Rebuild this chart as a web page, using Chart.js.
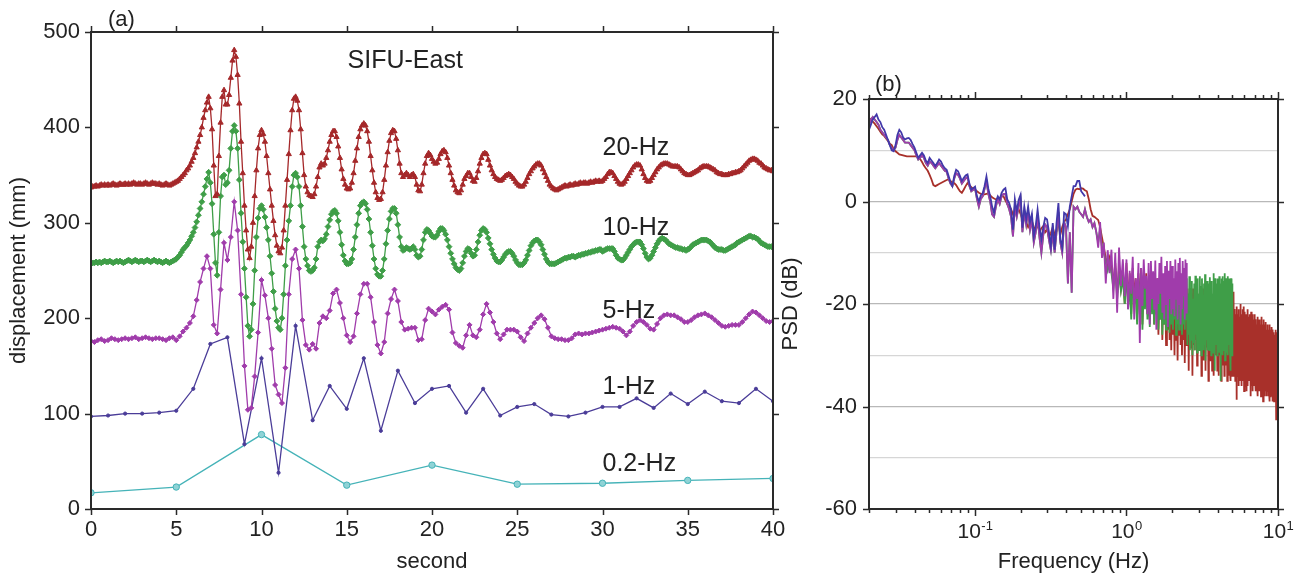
<!DOCTYPE html>
<html>
<head>
<meta charset="utf-8">
<title>SIFU-East displacement and PSD</title>
<script src="https://cdn.jsdelivr.net/npm/chart.js@4.4.1/dist/chart.umd.min.js"></script>
<style>
  html, body { margin: 0; padding: 0; background: #fff; }
  #wrap { position: relative; width: 1308px; height: 579px; overflow: hidden; }
  #dispChart { position: absolute; left: 0; top: 0; }
  #psdChart { position: absolute; left: 770px; top: 0; }
</style>
</head>
<body>
<div id="wrap">
  <canvas id="dispChart" width="800" height="579"></canvas>
  <canvas id="psdChart" width="538" height="579"></canvas>
</div>
<script>
// ---- displacement traces (mm), one array per sampling rate ----
const step20Hz = 0.1;   // every 0.1 s
const disp20Hz = [
  337,338,338,339,338,339,340,339,340,339, 340,339,340,341,340,339,340,341,340,340,
  341,340,341,340,341,342,341,340,341,341, 340,341,342,341,340,341,342,341,341,340,
  341,340,339,340,341,340,339,340,341,342, 343,344,346,348,350,352,355,357,360,364,
  368,373,379,385,392,400,410,418,426,432, 420,398,360,328,330,370,405,432,439,424,
  424,434,452,470,481,474,455,425,385,352, 318,292,272,263,275,300,328,355,378,392,
  397,393,385,370,352,335,318,302,287,276, 270,268,274,292,318,345,372,397,418,430,
  432,428,418,398,373,350,338,332,329,328, 327,330,338,348,358,362,360,362,368,376,
  385,392,396,396,390,380,368,356,346,340, 336,335,336,342,352,365,378,390,398,402,
  404,402,396,385,370,355,342,332,326,324, 325,332,345,360,374,386,394,397,396,388,
  376,362,352,348,350,352,350,348,350,351, 348,340,334,333,340,352,362,370,373,371,
  367,364,362,363,367,372,375,376,374,368, 360,352,345,339,334,332,331,334,340,346,
  349,352,352,348,344,343,347,354,362,368, 372,373,372,366,360,355,351,348,346,345,
  344,345,347,349,350,351,350,348,346,343, 341,339,338,338,340,343,347,351,354,357,
  359,361,362,362,360,356,352,348,344,340, 338,336,335,334,335,336,337,338,339,338,
  339,340,339,340,341,340,341,342,341,342, 342,341,342,343,342,343,344,343,344,343,
  344,346,348,351,353,353,352,349,346,343, 341,340,341,343,346,349,352,355,358,360,
  361,361,360,356,351,347,344,343,344,347, 350,353,356,358,360,361,362,362,362,361,
  360,359,359,359,359,358,356,354,352,351, 350,350,351,352,353,354,355,357,358,359,
  359,359,359,358,357,356,355,353,352,351, 351,350,350,350,351,351,352,352,353,353,
  354,355,357,359,361,363,365,366,367,367, 366,365,363,362,360,358,357,356,355,355,
  354
];

const step10Hz = 0.1;
const disp10Hz = [
  257,258,258,259,258,259,258,259,260,259, 259,260,259,258,259,260,259,260,259,258,
  259,260,261,260,259,260,261,260,259,260, 260,259,260,261,260,259,260,261,260,259,
  260,259,258,259,260,259,258,259,260,261, 262,264,266,269,272,274,276,279,282,286,
  290,295,301,308,315,322,330,338,346,353, 342,320,288,258,245,290,328,348,350,340,
  342,355,378,396,402,396,378,345,310,280, 252,222,192,181,188,215,250,285,305,315,
  318,314,306,295,282,265,247,228,210,197, 190,188,200,225,255,282,302,318,338,350,
  352,348,338,318,296,275,262,255,250,249, 250,253,262,275,280,282,281,283,288,296,
  303,309,312,313,310,302,290,277,266,260, 257,257,258,262,272,285,298,310,318,321,
  322,320,314,304,290,276,262,252,246,244, 244,250,262,278,292,304,312,315,315,310,
  298,285,275,271,272,274,273,272,273,275, 272,266,264,265,272,282,290,293,292,289,
  286,285,285,287,291,294,294,292,288,282, 275,268,262,257,253,251,250,252,258,265,
  270,273,272,268,265,266,272,280,287,292, 294,293,290,284,278,272,267,263,260,259,
  259,261,264,267,269,270,270,268,265,261, 258,256,256,256,258,261,266,271,276,279,
  281,282,282,280,277,272,267,262,259,257, 257,257,257,258,259,260,261,262,263,263,
  264,264,265,265,264,265,266,266,267,267, 268,268,269,269,270,270,271,271,272,272,
  270,271,272,273,273,273,273,270,266,263, 262,261,261,263,266,269,272,275,277,279,
  280,280,280,277,273,268,264,262,263,266, 270,274,278,281,283,284,283,282,280,278,
  277,276,275,274,274,273,273,272,272,271, 272,273,275,277,278,279,280,281,282,282,
  282,282,281,280,278,276,274,273,272,272, 272,271,271,272,273,274,275,276,277,279,
  280,281,282,283,284,285,286,286,285,285, 284,283,281,279,278,277,276,275,275,275,
  274
];

const step5Hz = 0.2;
const disp5Hz = [
  176,175,177,178,176, 177,179,178,177,178, 179,178,179,180,178, 179,180,179,178,179,
  179,178,177,179,180, 177,181,186,190,195, 202,219,238,252,265, 252,193,184,230,279,
  261,285,322,292,225, 150,104,106,139,185, 240,224,200,168,130, 120,111,148,225,262,
  272,252,198,172,167, 173,168,195,202,200, 208,226,230,216,200, 182,175,181,205,225,
  236,236,222,196,172, 163,175,205,220,230, 218,196,188,189,190, 190,177,178,198,210,
  207,204,209,212,214, 209,185,174,171,169, 182,193,182,180,188, 204,215,206,196,184,
  178,183,188,188,188, 186,180,176,184,190, 195,200,203,199,190, 181,179,178,178,177,
  177,179,183,184,183, 184,184,185,186,187, 188,189,190,191,190, 189,186,182,186,192,
  196,198,196,193,189, 188,194,200,203,204, 203,203,201,199,196, 196,198,201,203,204,
  205,203,201,198,195, 192,191,192,193,193, 193,196,200,204,207, 206,203,200,197,196,
  197
];

const step1Hz = 1;
const disp1Hz = [
  97,98,100,100,101,103,126,173,180,68, 158,38,192,93,129,105,158,82,145,111,
  126,129,101,126,98,107,110,99,97,101, 107,107,116,106,121,110,123,113,111,126,
  113
];

const step02Hz = 5;
const disp02Hz = [17, 23, 78, 25, 46, 26, 27, 30, 32];

// ---- power spectral density (dB) ----
// below 1 Hz: log-spaced readings from 0.02 Hz; from 1 Hz up: every 0.025 Hz
const psdLowStartHz = 0.02;
const psdLowPerDecade = 80;
const psdHighStartHz = 1.0;
const psdHighStepHz = 0.025;

const psd1Hz = [
  14,15,16,16.5,17,16,15.5,14.5,14,13, 12,11,10,9.8,11,13,14,13.5,12.5,12.1,
  12.3,12.4,12,11.2,10.5,9.5,8.5,9,9.5,9, 8,7.5,8.5,8,7.5,6.9,7.5,8.2,7.8,7,
  6.5,6.2,5,3.8,3,5,6.2,5.9,5,4, 4.6,5.1,5.3,3.5,2.3,2.6,2.9,1,0,1.2,
  1.6,3,4.9,2.5,1,-1,-2.2,0,1,0.4, 1.7,2.3,2.6,0.4,-0.3,-1.6,-5.5,0.4,-2,0.3,
  1.3,-5.1,-1,-3.5,-1,-4,-2.4,-6.8,-4.8,-1.6, -5,-7.4,-5,-3.2,-3.5,-6,-8.7,-4.2,-9.4,-4.2,
  -0.3,-7.4,-9,-2.2,-2.5,-4.8,-1,1,3,3, 4,4,2,1.5,1
];

const psd5HzLow = [
  15,16,16.5,16,15.5,15,14,13.5,13,12.5, 12,11,10.5,10,10.5,12,13,12.5,12,11.5,
  11.5,11.5,11,10.5,10,9,8.2,8.5,9,8.5, 7.5,7,7.8,7.5,7,6.5,7,7.5,7,6.5,
  6,5.8,4.5,3.5,3,4.5,5.5,5.2,4.5,3.5, 4,4.5,4.8,3,2,2.3,2.5,0.5,-1,0.5,
  1,2.5,4,1.5,0,-2.5,-3,-1,0.5,-0.5, 1,1.5,1.5,-0.5,-1.5,-3,-6.8,-1,-3,-1,
  0.5,-6,-2,-4.5,-2,-5.5,-3.5,-8,-6,-3, -7,-10,-6.5,-4.5,-5,-7.5,-9.5,-6,-10,-6,
  -2,-8,-10,-4,-5,-16,-6,-17.8,-1,-1.5, -1,-2,-2.5,-3,-1.5,-3,-4,-3.5,-5,-4.2,
  -6,-9,-4,-11,-8,-16,-9.5,-14,-9.4,-19, -10,-21.7,-9,-16.5,-11.3,-18.5
];
const psd5HzHigh = [
  -11.3,-21,-13.5,-18,-10.8,-23,-15,-19,-12,-27.6, -13,-20.4,-11.3,-17,-14.5,-22,-12,-24,-11.6,-19,
  -13.6,-21.1,-11.5,-25,-15,-20,-12,-18,-10.8,-21.7, -14,-23,-12.6,-20,-11.6,-24.5,-13.5,-19,-11.6,-22,
  -12.6,-21,-15,-22.4,-11.3,-19,-13.6,-23,-12,-20, -11,-24,-14,-21,-11.6,-18.5,-13,-23,-11.3,-21.7,
  -12
];

// below ~0.7 Hz the 10-Hz spectrum runs under the 5-Hz one
const psd10HzLow = [
  15,16,16.5,16,15.5,15,14,13.5,13,12.5, 12,11,10.5,10,10.5,12,13,12.5,12,11.5,
  11.5,11.5,11,10.5,10,9,8.2,8.5,9,8.5, 7.5,7,7.8,7.5,7,6.5,7,7.5,7,6.5,
  6,5.8,4.5,3.5,3,4.5,5.5,5.2,4.5,3.5, 4,4.5,4.8,3,2,2.3,2.5,0.5,-1,0.5,
  1,2.5,4,1.5,0,-2.5,-3,-1,0.5,-0.5, 1,1.5,1.5,-0.5,-1.5,-3,-6.8,-1,-3,-1,
  0.5,-6,-2,-4.5,-2,-5.5,-3.5,-8,-6,-3, -7,-10,-6.5,-4.5,-5,-7.5,-9.5,-6,-10,-6,
  -2,-8,-10,-4,-5,-16,-6,-17.8,-1,-1.5, -1,-2,-2.5,-3,-1.5,-3,-4,-3.5,-5,-4.2,
  -6,-8,-5.5,-9,-10,-12,-13.5,-12,-14,-17, -13,-19,-14,-17.5,-15,-20
];
const psd10HzHigh = [
  -14,-21,-16,-23,-15,-20,-17,-24,-15,-22, -14,-25,-16,-21,-15,-23,-17,-24.5,-15,-22,
  -16,-24,-17,-22,-16,-25,-17,-23,-16,-26, -15,-24,-17,-25,-16,-23,-15,-25.6,-17,-24,
  -16,-25,-17,-23,-16,-26,-18,-24,-17,-25, -16,-23,-18,-26,-17,-24,-16,-25,-17,-23,
  -15,-28,-18,-26,-14.6,-29,-17,-27,-15.5,-30, -19,-27.6,-16,-29,-14.5,-26,-17.5,-29.5,-15,-27,
  -18,-29,-14.6,-27,-16.5,-30,-15,-26,-19,-29, -16,-28,-14.2,-31,-17,-27,-15.5,-29,-18.5,-26.5,
  -16,-29,-14.8,-27,-17,-30,-15.5,-26,-18,-29.5, -14,-28,-16.5,-33,-15,-27,-19,-28,-16,-30,
  -15,-27,-17.5,-29.5,-14.6,-28,-16,-35,-18,-27, -15,-29,-14.6,-30,-17,-26.5,-15.5,-29,-14,-31,
  -16.5,-28,-15,-29.5,-18,-27,-14.6,-30,-16,-28, -19,-27.6,-15,-29,-16.5,-33,-15,-28,-17,-30,
  -16
];

const psd20HzLow = [
  16.3,16,15.6,15.2,14.7,14.2,13.6,13.1,12.8,12.3, 11.8,11.3,11,10.2,9.8,9.5,9.2,9.1,9,8.9,
  8.8,8.8,8.8,8.8,8.8,8.8,8.7,8.3,7.7,7, 6.5,6,5.2,4.3,3.2,3,3.2,3.4,3.6,3.8,
  4,4.2,4.3,4,3.7,3.6,3.2,2.6,2,1.7, 2.3,3,3.6,3.2,2.8,2.5,2.3,2,1.7,1.5,
  1.3,1.4,1.5,1.6,1.2,0.8,0.6,0.4,0.4,0.7, 1,1,0.2,-0.5,-0.9,-1.5,-2.5,-1.8,-2.2,-1.5,
  -2.4,-3.5,-2.8,-4,-5,-4.2,-3.8,-5,-5.5,-4.5, -6,-5.2,-4.8,-6,-5.5,-7,-6.2,-5,-6.5,-5.8,
  -4,-6.5,-5,-4,-3.5,-2.5,-1.5,0,1.5,2.3, 2.5,2.4,2.6,2.5,2.2,2,0.5,-1.5,-2.8,-3,
  -3.3,-3.6,-5,-7,-9,-11,-12.6,-11,-13,-16, -12,-18,-13,-17,-14,-20
];
const psd20HzHigh = [
  -12,-20,-14,-22,-13,-19,-15,-23,-14,-21, -13,-24,-15,-20,-14,-22,-16,-23,-14,-21,
  -15,-24,-16,-22,-15,-26,-17,-23,-16,-27, -15,-24,-17,-28,-16,-25,-15,-27,-17,-29,
  -16,-26,-17,-30,-16,-27,-18,-31,-17,-26, -16,-28,-18,-30,-17,-27,-16,-31.5,-18,-28,
  -17,-28,-18,-33,-17,-27,-19,-28.5,-18,-34, -17,-28,-19,-29,-18,-27,-17,-32,-19,-28.5,
  -18,-29,-17,-28,-19,-34,-18,-28.5,-17,-31, -19,-28,-18,-33,-17,-28.5,-19,-29,-18,-35,
  -19,-28.5,-18,-31,-20,-28,-18,-33,-19,-29, -20,-34,-18,-28.5,-19,-30,-20,-28,-19,-33,
  -20,-29,-19,-34,-20,-28.5,-21,-30,-19,-35, -20,-29,-21,-32,-20,-28.5,-19,-34,-21,-30,
  -20,-32,-21,-29,-19,-35,-20,-30,-21,-34, -20,-29,-19,-33,-21,-35,-20,-30,-18,-34,
  -21,-33,-23,-31,-17.6,-34,-24,-32,-21,-35, -25,-33,-22,-38.7,-20.5,-34,-24,-31,-22,-36,
  -21,-33,-25,-35,-22.5,-32,-20,-34,-24,-36, -22,-31,-26,-35,-21,-34,-23,-33,-20.5,-37,
  -23,-34,-21.5,-36,-25,-33,-22,-35,-26,-37, -23,-32,-21,-36,-25,-34,-22.5,-35,-27,-33,
  -22,-35,-24,-38,-26,-34,-21.5,-36,-24,-33, -27,-35,-22,-37,-25,-34,-23,-36,-26,-34,
  -24,-36,-22,-35,-26,-37,-23,-34,-27,-36, -24,-35,-22.5,-38,-25,-36,-27,-34,-23,-37,
  -25,-35,-23,-37,-27,-36,-24,-34,-26,-38, -22.5,-35,-25,-37,-28,-36,-24,-35,-26,-39,
  -25,-36,-23,-37,-27,-35,-24,-38,-28,-36, -25,-37,-23.5,-35,-27,-38,-25,-36,-28,-37,
  -24,-37,-26,-36,-28,-38,-25,-35,-27,-37, -24,-39,-26,-36,-28,-38,-25,-37,-27,-36,
  -26,-38,-24.5,-36,-28,-37,-26,-39,-29,-36, -25,-38,-27,-37,-29,-36,-25.5,-39,-27,-37,
  -26,-38,-28,-37,-25,-39,-29,-36,-27,-42.5, -26,-38,-28,-37,-25.5,-39,-29,-38,-27,-37,
  -30
];

// ---- shared look ----
const FONT = '"Liberation Sans", Arial, Helvetica, sans-serif';
const INK = '#222';
Chart.defaults.font.family = FONT;
Chart.defaults.font.size = 22;
Chart.defaults.color = INK;

const RED = '#a5282a';
const GREEN = '#3f9e48';
const MAGENTA = '#a03cab';
const INDIGO = '#4a3c98';
const TEAL = '#45b3b8';
const BLUE = '#4238aa';
const PSD_RED = '#a8302a';

function timeSeries(values, step) {
  return values.map((v, i) => ({ x: +(i * step).toFixed(2), y: v }));
}
function spectrum(low, high = []) {
  const pts = low.map((v, i) => ({ x: psdLowStartHz * Math.pow(10, i / psdLowPerDecade), y: v }));
  high.forEach((v, k) => pts.push({ x: psdHighStartHz + k * psdHighStepHz, y: v }));
  return pts;
}

// box frame with outward tick marks on all four sides
const framePlugin = {
  id: 'frame',
  afterDatasetsDraw(chart, args, opts) {
    const { ctx, chartArea: a, scales: { x, y } } = chart;
    ctx.save();
    ctx.strokeStyle = '#2a2a2a';
    ctx.lineWidth = 1.5;
    ctx.beginPath();
    opts.xTicks.forEach(([v, len]) => {
      const px = Math.round(x.getPixelForValue(v)) + 0.5;
      ctx.moveTo(px, a.bottom); ctx.lineTo(px, a.bottom + len);
      ctx.moveTo(px, a.top); ctx.lineTo(px, a.top - len);
    });
    opts.yTicks.forEach(([v, len]) => {
      const py = Math.round(y.getPixelForValue(v)) + 0.5;
      ctx.moveTo(a.left, py); ctx.lineTo(a.left - len, py);
      ctx.moveTo(a.right, py); ctx.lineTo(a.right + len, py);
    });
    ctx.stroke();
    ctx.lineWidth = 2;
    ctx.strokeRect(a.left, a.top, a.right - a.left, a.bottom - a.top);
    ctx.restore();
  }
};

// panel letter and free text placed in data coordinates
const notesPlugin = {
  id: 'notes',
  afterDraw(chart, args, opts) {
    const { ctx, chartArea: a, scales: { x, y } } = chart;
    ctx.save();
    ctx.fillStyle = INK;
    ctx.textBaseline = 'middle';
    ctx.font = `22px ${FONT}`;
    ctx.fillText(opts.panel, a.left + opts.panelDx, a.top + opts.panelDy);
    (opts.items || []).forEach(n => {
      ctx.font = `${n.size}px ${FONT}`;
      ctx.fillText(n.text, x.getPixelForValue(n.x), y.getPixelForValue(n.y));
    });
    ctx.restore();
  }
};

// 10^n labels with raised exponents under the log axis
const decadePlugin = {
  id: 'decades',
  afterDraw(chart, args, opts) {
    const { ctx, chartArea: a, scales: { x } } = chart;
    ctx.save();
    ctx.fillStyle = INK;
    ctx.textBaseline = 'alphabetic';
    opts.exponents.forEach(e => {
      const px = x.getPixelForValue(Math.pow(10, e));
      const sup = String(e);
      ctx.font = `21px ${FONT}`;
      const wBase = ctx.measureText('10').width;
      ctx.font = `13px ${FONT}`;
      const wExp = ctx.measureText(sup).width;
      const left = px - (wBase + wExp) / 2;
      ctx.font = `21px ${FONT}`;
      ctx.fillText('10', left, a.bottom + 29);
      ctx.font = `13px ${FONT}`;
      ctx.fillText(sup, left + wBase + 0.5, a.bottom + 21);
    });
    ctx.restore();
  }
};

function traceSet(label, values, step, color, style, radius) {
  return {
    label,
    data: timeSeries(values, step),
    borderColor: color,
    backgroundColor: color,
    borderWidth: 1.3,
    pointStyle: style,
    pointRadius: radius,
    pointBorderWidth: 1,
    tension: 0
  };
}

// ---- (a) displacement panel ----
new Chart(document.getElementById('dispChart'), {
  type: 'line',
  data: {
    datasets: [
      traceSet('20-Hz', disp20Hz, step20Hz, RED, 'triangle', 3),
      traceSet('10-Hz', disp10Hz, step10Hz, GREEN, 'rectRot', 2.9),
      traceSet('5-Hz', disp5Hz, step5Hz, MAGENTA, 'rectRot', 2.5),
      traceSet('1-Hz', disp1Hz, step1Hz, INDIGO, 'circle', 1.6),
      Object.assign(traceSet('0.2-Hz', disp02Hz, step02Hz, TEAL, 'circle', 3.2),
        { backgroundColor: '#8fd3d6' })
    ]
  },
  options: {
    responsive: false,
    animation: false,
    layout: { padding: { left: 0, top: 32, right: 27, bottom: 0 } },
    plugins: {
      legend: { display: false },
      tooltip: { enabled: false },
      frame: {
        xTicks: [0, 5, 10, 15, 20, 25, 30, 35, 40].map(v => [v, 6]),
        yTicks: [0, 100, 200, 300, 400, 500].map(v => [v, 6])
      },
      notes: {
        panel: '(a)', panelDx: 17, panelDy: -12,
        items: [
          { text: 'SIFU-East', x: 15.05, y: 469, size: 25 },
          { text: '20-Hz', x: 30.0, y: 378, size: 25 },
          { text: '10-Hz', x: 30.0, y: 294, size: 25 },
          { text: '5-Hz', x: 30.0, y: 207, size: 25 },
          { text: '1-Hz', x: 30.0, y: 128, size: 25 },
          { text: '0.2-Hz', x: 30.0, y: 47, size: 25 }
        ]
      }
    },
    scales: {
      x: {
        type: 'linear', min: 0, max: 40,
        grid: { display: false, tickLength: 6 },
        border: { display: false },
        ticks: { stepSize: 5, padding: 2, maxRotation: 0 },
        title: { display: true, text: 'second', padding: { top: 0, bottom: 4 } },
        afterFit: s => { s.height = 70; }
      },
      y: {
        min: 0, max: 500,
        grid: { display: false, tickLength: 6 },
        border: { display: false },
        ticks: { stepSize: 100, padding: 5 },
        title: { display: true, text: 'displacement (mm)', padding: { top: 6, bottom: 0 } },
        afterFit: s => { s.width = 91; }
      }
    }
  },
  plugins: [framePlugin, notesPlugin]
});

// ---- (b) PSD panel ----
function psdSet(label, points, color) {
  return {
    label,
    data: points,
    borderColor: color,
    borderWidth: 1.8,
    pointRadius: 0,
    tension: 0
  };
}

const minorHz = [];
[0.01, 0.1, 1].forEach(d => {
  for (let k = 2; k <= 9; k++) minorHz.push(+(k * d).toFixed(3));
});

new Chart(document.getElementById('psdChart'), {
  type: 'line',
  data: {
    datasets: [
      psdSet('1-Hz', spectrum(psd1Hz), BLUE),
      psdSet('5-Hz', spectrum(psd5HzLow, psd5HzHigh), MAGENTA),
      psdSet('10-Hz', spectrum(psd10HzLow, psd10HzHigh), GREEN),
      psdSet('20-Hz', spectrum(psd20HzLow, psd20HzHigh), PSD_RED)
    ]
  },
  options: {
    responsive: false,
    animation: false,
    layout: { padding: { left: 0, top: 99, right: 30, bottom: 0 } },
    plugins: {
      legend: { display: false },
      tooltip: { enabled: false },
      frame: {
        xTicks: [[0.1, 7], [1, 7], [10, 7]].concat(minorHz.filter(f => f >= 0.02).map(f => [f, 4])),
        yTicks: [20, 0, -20, -40, -60].map(v => [v, 6])
      },
      notes: { panel: '(b)', panelDx: 6, panelDy: -14, items: [] },
      decades: { exponents: [-1, 0, 1] }
    },
    scales: {
      x: {
        type: 'logarithmic', min: 0.02, max: 10,
        grid: { display: false },
        border: { display: false },
        ticks: { display: false },
        title: { display: true, text: 'Frequency (Hz)', padding: { top: 0, bottom: 4 } },
        afterFit: s => { s.height = 70; }
      },
      y: {
        min: -60, max: 20,
        grid: {
          drawTicks: false,
          lineWidth: 1.2,
          color: c => (c.tick.value % 20 === 0 ? '#b8b8b8' : '#d6d6d6')
        },
        border: { display: false },
        ticks: {
          stepSize: 10, padding: 12,
          callback: v => (v % 20 === 0 ? String(v) : '')
        },
        title: { display: true, text: 'PSD (dB)', padding: { top: 8, bottom: 0 } },
        afterFit: s => { s.width = 99; }
      }
    }
  },
  plugins: [framePlugin, notesPlugin, decadePlugin]
});
</script>
</body>
</html>
